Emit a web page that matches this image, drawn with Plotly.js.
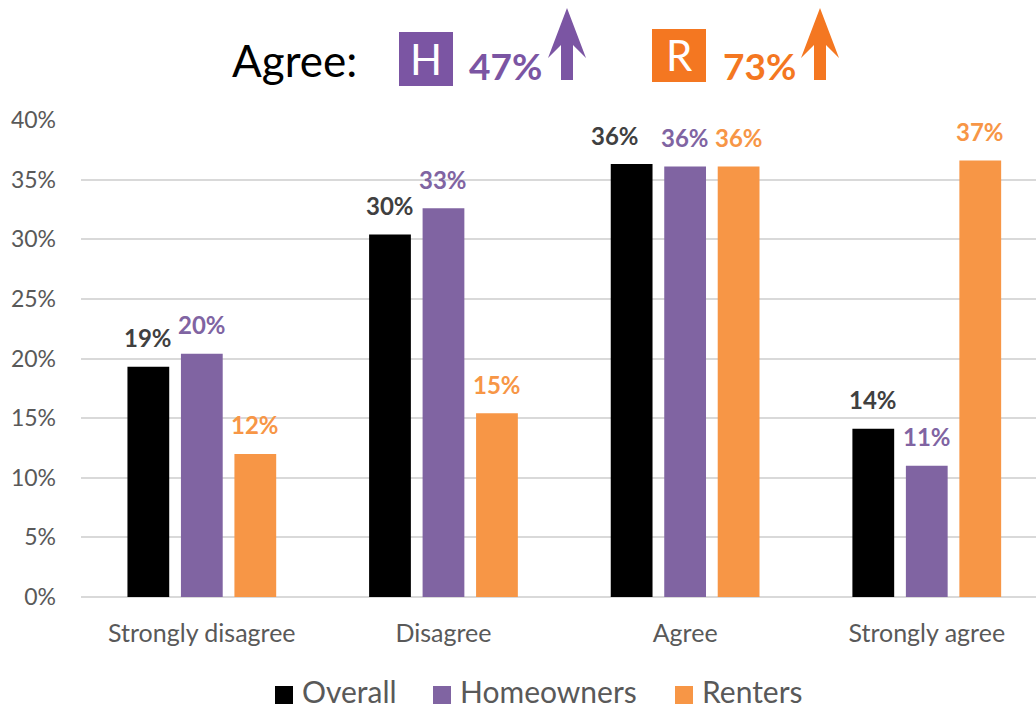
<!DOCTYPE html>
<html>
<head>
<meta charset="utf-8">
<script src="https://cdn.plot.ly/plotly-3.0.1.min.js"></script>
<style>html,body{margin:0;padding:0;background:#fff;}#chart{width:1036px;height:710px;}</style>
</head>
<body>
<div id="chart"></div>
<script>
// ---- data ----
const categories = ["Strongly disagree", "Disagree", "Agree", "Strongly agree"];
const seriesNames = ["Overall", "Homeowners", "Renters"];
const overall = [19.3, 30.4, 36.3, 14.1];
const homeowners = [20.4, 32.6, 36.1, 11.0];
const renters = [12.0, 15.4, 36.1, 36.6];
const headlineLetters = ["H", "R"];
const headlineValues = [47, 73];
const yTicks = [0, 5, 10, 15, 20, 25, 30, 35, 40];

// ---- style ----
const FONT = "Lato, 'Open Sans', sans-serif";
const barColors = ["#000000", "#8064A2", "#F79646"];
const labelColors = ["#404040", "#8064A2", "#F79646"];
const headColors = ["#7B55A3", "#F47721"];
const W = 1036, H = 710;
const M = {l: 81, r: 0, t: 120, b: 113};
const bargap = 0.336, bargroupgap = 0.219;
const xRange = [-0.5, 3.452];

const series = [overall, homeowners, renters];
const traces = series.map((vals, s) => ({
  type: "bar",
  name: seriesNames[s],
  x: categories,
  y: vals,
  marker: {color: barColors[s]},
  hoverinfo: "skip",
  showlegend: false
}));

// pixel -> paper helpers
const pw = W - M.l - M.r, ph = H - M.t - M.b;
const PX = px => (px - M.l) / pw;
const PY = py => (H - M.b - py) / ph;

const annotations = [];
const shapes = [];

// data labels
const slot = (1 - bargap) / series.length;
const labelXShift = {"0,2": -17};
series.forEach((vals, s) => {
  vals.forEach((v, i) => {
    annotations.push({
      x: i + (s - (series.length - 1) / 2) * slot,
      y: v, xref: "x", yref: "y",
      text: Math.round(v) + "%",
      showarrow: false,
      yanchor: "middle",
      yshift: 29,
      xshift: labelXShift[s + "," + i] || 0,
      font: {family: FONT, size: 24, color: labelColors[s], weight: "bold"}
    });
  });
});

// headline
annotations.push({
  xref: "paper", yref: "paper", x: PX(230), y: PY(60), xanchor: "left", yanchor: "middle",
  text: "Agree:", showarrow: false,
  font: {family: FONT, size: 44, color: "#000000"}
});
const boxX = [399, 652];
const boxY = [[32, 86], [29, 82]];
const pctX = [467, 721];
const arrowX = [567, 820];
headlineLetters.forEach((L, k) => {
  shapes.push({
    type: "rect", xref: "paper", yref: "paper",
    x0: PX(boxX[k]), x1: PX(boxX[k] + 54), y0: PY(boxY[k][0]), y1: PY(boxY[k][1]),
    fillcolor: headColors[k], line: {width: 0}
  });
  annotations.push({
    xref: "paper", yref: "paper", x: PX(boxX[k] + 27), y: PY((boxY[k][0] + boxY[k][1]) / 2),
    xanchor: "center", yanchor: "middle", text: L, showarrow: false,
    font: {family: FONT, size: 42, color: "#FFFFFF"}
  });
  annotations.push({
    xref: "paper", yref: "paper", x: PX(pctX[k]), y: PY(65), xanchor: "left", yanchor: "middle",
    text: headlineValues[k] + "%", showarrow: false,
    font: {family: FONT, size: 37, color: headColors[k], weight: "bold"}
  });
  const c = arrowX[k];
  const pts = [[c, 8], [c + 19, 58], [c + 6, 45], [c + 6, 80], [c - 6, 80], [c - 6, 45], [c - 19, 58]];
  shapes.push({
    type: "path", xref: "paper", yref: "paper",
    path: "M " + pts.map(p => PX(p[0]) + "," + PY(p[1])).join(" L ") + " Z",
    fillcolor: headColors[k], line: {width: 0}
  });
});

// custom legend
const legSqX = [275, 433, 675];
seriesNames.forEach((n, s) => {
  shapes.push({
    type: "rect", xref: "paper", yref: "paper",
    x0: PX(legSqX[s]), x1: PX(legSqX[s] + 18), y0: PY(686), y1: PY(704),
    fillcolor: barColors[s], line: {width: 0}
  });
  annotations.push({
    xref: "paper", yref: "paper", x: PX(legSqX[s] + 26), y: PY(691), xanchor: "left", yanchor: "middle",
    text: n, showarrow: false, borderpad: 0,
    font: {family: FONT, size: 30, color: "#595959"}
  });
});

const layout = {
  width: W, height: H,
  margin: M,
  paper_bgcolor: "#FFFFFF", plot_bgcolor: "#FFFFFF",
  barmode: "group", bargap: bargap, bargroupgap: bargroupgap,
  showlegend: false,
  font: {family: FONT, color: "#595959"},
  xaxis: {
    type: "category", range: xRange, showgrid: false, zeroline: false, showline: false,
    ticks: "", tickfont: {family: FONT, size: 25, color: "#595959"}, ticklabelstandoff: 19,
    fixedrange: true
  },
  yaxis: {
    range: [0, 40], tickvals: yTicks, ticktext: yTicks.map(v => v + "%"),
    showgrid: true, gridcolor: "#D9D9D9", gridwidth: 2,
    zeroline: true, zerolinecolor: "#D9D9D9", zerolinewidth: 2, showline: false,
    ticks: "", tickfont: {family: FONT, size: 23, color: "#595959"}, ticklabelstandoff: 24,
    fixedrange: true
  },
  annotations: annotations,
  shapes: shapes
};

Plotly.newPlot("chart", traces, layout, {displayModeBar: false, staticPlot: true});
</script>
</body>
</html>
